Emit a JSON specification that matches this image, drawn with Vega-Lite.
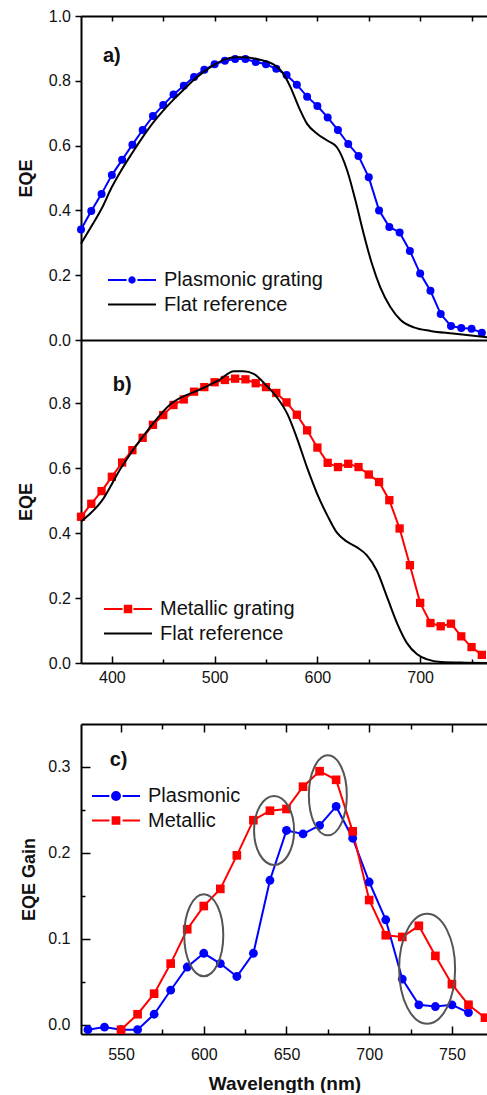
{
  "$schema": "https://vega.github.io/schema/vega-lite/v6.json",
  "padding": {"left": 17, "top": 8, "right": 0, "bottom": 0},
  "config": {
    "font": "Liberation Sans",
    "view": {"stroke": null},
    "axis": {"domainColor": "#000000", "domainWidth": 2, "tickColor": "#000000", "tickWidth": 1.5, "labelColor": "#111111", "labelFontSize": 16, "labelFont": "Liberation Sans", "titleFont": "Liberation Sans", "titleFontWeight": "bold", "titleFontSize": 18, "titleColor": "#111111", "grid": false, "labelFlush": false, "labelOverlap": false},
    "legend": {"labelFont": "Liberation Sans", "labelFontSize": 20, "labelColor": "#111111", "labelLimit": 0, "padding": 0, "symbolSize": 576, "symbolStrokeWidth": 2, "symbolOffset": 11, "labelOffset": 19, "rowPadding": 1.5, "title": null}
  },
  "datasets": {
    "panelA": [
      {"series": "Plasmonic grating", "wavelength": 370, "value": 0.341},
      {"series": "Plasmonic grating", "wavelength": 380, "value": 0.398},
      {"series": "Plasmonic grating", "wavelength": 390, "value": 0.451},
      {"series": "Plasmonic grating", "wavelength": 400, "value": 0.509},
      {"series": "Plasmonic grating", "wavelength": 410, "value": 0.556},
      {"series": "Plasmonic grating", "wavelength": 420, "value": 0.603},
      {"series": "Plasmonic grating", "wavelength": 430, "value": 0.648},
      {"series": "Plasmonic grating", "wavelength": 440, "value": 0.691},
      {"series": "Plasmonic grating", "wavelength": 450, "value": 0.725},
      {"series": "Plasmonic grating", "wavelength": 460, "value": 0.758},
      {"series": "Plasmonic grating", "wavelength": 470, "value": 0.785},
      {"series": "Plasmonic grating", "wavelength": 480, "value": 0.812},
      {"series": "Plasmonic grating", "wavelength": 490, "value": 0.834},
      {"series": "Plasmonic grating", "wavelength": 500, "value": 0.851},
      {"series": "Plasmonic grating", "wavelength": 510, "value": 0.862},
      {"series": "Plasmonic grating", "wavelength": 520, "value": 0.867},
      {"series": "Plasmonic grating", "wavelength": 530, "value": 0.867},
      {"series": "Plasmonic grating", "wavelength": 540, "value": 0.858},
      {"series": "Plasmonic grating", "wavelength": 550, "value": 0.851},
      {"series": "Plasmonic grating", "wavelength": 560, "value": 0.837},
      {"series": "Plasmonic grating", "wavelength": 570, "value": 0.818},
      {"series": "Plasmonic grating", "wavelength": 580, "value": 0.788},
      {"series": "Plasmonic grating", "wavelength": 590, "value": 0.751},
      {"series": "Plasmonic grating", "wavelength": 600, "value": 0.722},
      {"series": "Plasmonic grating", "wavelength": 610, "value": 0.687},
      {"series": "Plasmonic grating", "wavelength": 620, "value": 0.648},
      {"series": "Plasmonic grating", "wavelength": 630, "value": 0.605},
      {"series": "Plasmonic grating", "wavelength": 640, "value": 0.568},
      {"series": "Plasmonic grating", "wavelength": 650, "value": 0.502},
      {"series": "Plasmonic grating", "wavelength": 660, "value": 0.400},
      {"series": "Plasmonic grating", "wavelength": 670, "value": 0.349},
      {"series": "Plasmonic grating", "wavelength": 680, "value": 0.332},
      {"series": "Plasmonic grating", "wavelength": 690, "value": 0.275},
      {"series": "Plasmonic grating", "wavelength": 700, "value": 0.205},
      {"series": "Plasmonic grating", "wavelength": 710, "value": 0.152},
      {"series": "Plasmonic grating", "wavelength": 720, "value": 0.080},
      {"series": "Plasmonic grating", "wavelength": 730, "value": 0.043},
      {"series": "Plasmonic grating", "wavelength": 740, "value": 0.037},
      {"series": "Plasmonic grating", "wavelength": 750, "value": 0.035},
      {"series": "Plasmonic grating", "wavelength": 760, "value": 0.022},
      {"series": "Flat reference", "wavelength": 370, "value": 0.297},
      {"series": "Flat reference", "wavelength": 380, "value": 0.350},
      {"series": "Flat reference", "wavelength": 390, "value": 0.405},
      {"series": "Flat reference", "wavelength": 400, "value": 0.472},
      {"series": "Flat reference", "wavelength": 410, "value": 0.528},
      {"series": "Flat reference", "wavelength": 420, "value": 0.578},
      {"series": "Flat reference", "wavelength": 430, "value": 0.626},
      {"series": "Flat reference", "wavelength": 440, "value": 0.670},
      {"series": "Flat reference", "wavelength": 450, "value": 0.708},
      {"series": "Flat reference", "wavelength": 460, "value": 0.742},
      {"series": "Flat reference", "wavelength": 470, "value": 0.773},
      {"series": "Flat reference", "wavelength": 480, "value": 0.803},
      {"series": "Flat reference", "wavelength": 490, "value": 0.829},
      {"series": "Flat reference", "wavelength": 500, "value": 0.850},
      {"series": "Flat reference", "wavelength": 510, "value": 0.866},
      {"series": "Flat reference", "wavelength": 520, "value": 0.873},
      {"series": "Flat reference", "wavelength": 530, "value": 0.873},
      {"series": "Flat reference", "wavelength": 545, "value": 0.864},
      {"series": "Flat reference", "wavelength": 558, "value": 0.849},
      {"series": "Flat reference", "wavelength": 566, "value": 0.826},
      {"series": "Flat reference", "wavelength": 574, "value": 0.779},
      {"series": "Flat reference", "wavelength": 582, "value": 0.718},
      {"series": "Flat reference", "wavelength": 590, "value": 0.667},
      {"series": "Flat reference", "wavelength": 600, "value": 0.636},
      {"series": "Flat reference", "wavelength": 610, "value": 0.615},
      {"series": "Flat reference", "wavelength": 619, "value": 0.595},
      {"series": "Flat reference", "wavelength": 629, "value": 0.523},
      {"series": "Flat reference", "wavelength": 637, "value": 0.431},
      {"series": "Flat reference", "wavelength": 645, "value": 0.328},
      {"series": "Flat reference", "wavelength": 653, "value": 0.236},
      {"series": "Flat reference", "wavelength": 661, "value": 0.164},
      {"series": "Flat reference", "wavelength": 671, "value": 0.102},
      {"series": "Flat reference", "wavelength": 681, "value": 0.062},
      {"series": "Flat reference", "wavelength": 694, "value": 0.039},
      {"series": "Flat reference", "wavelength": 710, "value": 0.028},
      {"series": "Flat reference", "wavelength": 732, "value": 0.020},
      {"series": "Flat reference", "wavelength": 766, "value": 0.008}
    ],
    "panelB": [
      {"series": "Metallic grating", "wavelength": 370, "value": 0.450},
      {"series": "Metallic grating", "wavelength": 380, "value": 0.490},
      {"series": "Metallic grating", "wavelength": 390, "value": 0.529},
      {"series": "Metallic grating", "wavelength": 400, "value": 0.573},
      {"series": "Metallic grating", "wavelength": 410, "value": 0.617},
      {"series": "Metallic grating", "wavelength": 420, "value": 0.655},
      {"series": "Metallic grating", "wavelength": 430, "value": 0.693},
      {"series": "Metallic grating", "wavelength": 440, "value": 0.733},
      {"series": "Metallic grating", "wavelength": 450, "value": 0.763},
      {"series": "Metallic grating", "wavelength": 460, "value": 0.794},
      {"series": "Metallic grating", "wavelength": 470, "value": 0.811},
      {"series": "Metallic grating", "wavelength": 480, "value": 0.835},
      {"series": "Metallic grating", "wavelength": 490, "value": 0.849},
      {"series": "Metallic grating", "wavelength": 500, "value": 0.864},
      {"series": "Metallic grating", "wavelength": 510, "value": 0.871},
      {"series": "Metallic grating", "wavelength": 520, "value": 0.875},
      {"series": "Metallic grating", "wavelength": 530, "value": 0.873},
      {"series": "Metallic grating", "wavelength": 540, "value": 0.861},
      {"series": "Metallic grating", "wavelength": 550, "value": 0.849},
      {"series": "Metallic grating", "wavelength": 560, "value": 0.831},
      {"series": "Metallic grating", "wavelength": 570, "value": 0.802},
      {"series": "Metallic grating", "wavelength": 580, "value": 0.764},
      {"series": "Metallic grating", "wavelength": 590, "value": 0.716},
      {"series": "Metallic grating", "wavelength": 600, "value": 0.663},
      {"series": "Metallic grating", "wavelength": 610, "value": 0.616},
      {"series": "Metallic grating", "wavelength": 620, "value": 0.603},
      {"series": "Metallic grating", "wavelength": 630, "value": 0.613},
      {"series": "Metallic grating", "wavelength": 640, "value": 0.603},
      {"series": "Metallic grating", "wavelength": 650, "value": 0.580},
      {"series": "Metallic grating", "wavelength": 660, "value": 0.557},
      {"series": "Metallic grating", "wavelength": 670, "value": 0.501},
      {"series": "Metallic grating", "wavelength": 680, "value": 0.414},
      {"series": "Metallic grating", "wavelength": 690, "value": 0.301},
      {"series": "Metallic grating", "wavelength": 700, "value": 0.185},
      {"series": "Metallic grating", "wavelength": 710, "value": 0.123},
      {"series": "Metallic grating", "wavelength": 720, "value": 0.113},
      {"series": "Metallic grating", "wavelength": 730, "value": 0.121},
      {"series": "Metallic grating", "wavelength": 740, "value": 0.082},
      {"series": "Metallic grating", "wavelength": 750, "value": 0.049},
      {"series": "Metallic grating", "wavelength": 760, "value": 0.025},
      {"series": "Flat reference", "wavelength": 370, "value": 0.435},
      {"series": "Flat reference", "wavelength": 390, "value": 0.498},
      {"series": "Flat reference", "wavelength": 409, "value": 0.601},
      {"series": "Flat reference", "wavelength": 438, "value": 0.729},
      {"series": "Flat reference", "wavelength": 457, "value": 0.796},
      {"series": "Flat reference", "wavelength": 486, "value": 0.842},
      {"series": "Flat reference", "wavelength": 503, "value": 0.868},
      {"series": "Flat reference", "wavelength": 519, "value": 0.898},
      {"series": "Flat reference", "wavelength": 528, "value": 0.898},
      {"series": "Flat reference", "wavelength": 538, "value": 0.890},
      {"series": "Flat reference", "wavelength": 551, "value": 0.852},
      {"series": "Flat reference", "wavelength": 561, "value": 0.816},
      {"series": "Flat reference", "wavelength": 571, "value": 0.765},
      {"series": "Flat reference", "wavelength": 580, "value": 0.693},
      {"series": "Flat reference", "wavelength": 590, "value": 0.601},
      {"series": "Flat reference", "wavelength": 600, "value": 0.519},
      {"series": "Flat reference", "wavelength": 610, "value": 0.452},
      {"series": "Flat reference", "wavelength": 619, "value": 0.401},
      {"series": "Flat reference", "wavelength": 629, "value": 0.373},
      {"series": "Flat reference", "wavelength": 639, "value": 0.355},
      {"series": "Flat reference", "wavelength": 648, "value": 0.332},
      {"series": "Flat reference", "wavelength": 658, "value": 0.283},
      {"series": "Flat reference", "wavelength": 668, "value": 0.201},
      {"series": "Flat reference", "wavelength": 678, "value": 0.119},
      {"series": "Flat reference", "wavelength": 687, "value": 0.062},
      {"series": "Flat reference", "wavelength": 697, "value": 0.027},
      {"series": "Flat reference", "wavelength": 707, "value": 0.011},
      {"series": "Flat reference", "wavelength": 720, "value": 0.003},
      {"series": "Flat reference", "wavelength": 745, "value": 0.001},
      {"series": "Flat reference", "wavelength": 766, "value": 0.0}
    ],
    "panelC": [
      {"series": "Plasmonic", "wavelength": 530, "value": -0.006},
      {"series": "Plasmonic", "wavelength": 540, "value": -0.003},
      {"series": "Plasmonic", "wavelength": 550, "value": -0.006},
      {"series": "Plasmonic", "wavelength": 560, "value": -0.006},
      {"series": "Plasmonic", "wavelength": 570, "value": 0.012},
      {"series": "Plasmonic", "wavelength": 580, "value": 0.040},
      {"series": "Plasmonic", "wavelength": 590, "value": 0.067},
      {"series": "Plasmonic", "wavelength": 600, "value": 0.083},
      {"series": "Plasmonic", "wavelength": 610, "value": 0.071},
      {"series": "Plasmonic", "wavelength": 620, "value": 0.056},
      {"series": "Plasmonic", "wavelength": 630, "value": 0.083},
      {"series": "Plasmonic", "wavelength": 640, "value": 0.168},
      {"series": "Plasmonic", "wavelength": 650, "value": 0.226},
      {"series": "Plasmonic", "wavelength": 660, "value": 0.222},
      {"series": "Plasmonic", "wavelength": 670, "value": 0.232},
      {"series": "Plasmonic", "wavelength": 680, "value": 0.254},
      {"series": "Plasmonic", "wavelength": 690, "value": 0.217},
      {"series": "Plasmonic", "wavelength": 700, "value": 0.166},
      {"series": "Plasmonic", "wavelength": 710, "value": 0.122},
      {"series": "Plasmonic", "wavelength": 720, "value": 0.053},
      {"series": "Plasmonic", "wavelength": 730, "value": 0.023},
      {"series": "Plasmonic", "wavelength": 740, "value": 0.021},
      {"series": "Plasmonic", "wavelength": 750, "value": 0.023},
      {"series": "Plasmonic", "wavelength": 760, "value": 0.014},
      {"series": "Metallic", "wavelength": 550, "value": -0.006},
      {"series": "Metallic", "wavelength": 560, "value": 0.012},
      {"series": "Metallic", "wavelength": 570, "value": 0.036},
      {"series": "Metallic", "wavelength": 580, "value": 0.071},
      {"series": "Metallic", "wavelength": 590, "value": 0.111},
      {"series": "Metallic", "wavelength": 600, "value": 0.138},
      {"series": "Metallic", "wavelength": 610, "value": 0.158},
      {"series": "Metallic", "wavelength": 620, "value": 0.197},
      {"series": "Metallic", "wavelength": 630, "value": 0.238},
      {"series": "Metallic", "wavelength": 640, "value": 0.249},
      {"series": "Metallic", "wavelength": 650, "value": 0.251},
      {"series": "Metallic", "wavelength": 660, "value": 0.277},
      {"series": "Metallic", "wavelength": 670, "value": 0.295},
      {"series": "Metallic", "wavelength": 680, "value": 0.285},
      {"series": "Metallic", "wavelength": 690, "value": 0.225},
      {"series": "Metallic", "wavelength": 700, "value": 0.145},
      {"series": "Metallic", "wavelength": 710, "value": 0.104},
      {"series": "Metallic", "wavelength": 720, "value": 0.102},
      {"series": "Metallic", "wavelength": 730, "value": 0.115},
      {"series": "Metallic", "wavelength": 740, "value": 0.080},
      {"series": "Metallic", "wavelength": 750, "value": 0.047},
      {"series": "Metallic", "wavelength": 760, "value": 0.023},
      {"series": "Metallic", "wavelength": 770, "value": 0.008}
    ],
    "ellipses": [
      {"ellipse": 1, "wavelength": 600, "value": 0.104},
      {"ellipse": 2, "wavelength": 642.5, "value": 0.226},
      {"ellipse": 3, "wavelength": 675, "value": 0.267},
      {"ellipse": 4, "wavelength": 735, "value": 0.065}
    ],
    "labels": [
      {"panel": "a", "label": "a)", "wavelength": 400, "value": 0.877},
      {"panel": "b", "label": "b)", "wavelength": 410, "value": 0.857},
      {"panel": "c", "label": "c)", "wavelength": 548.5, "value": 0.308}
    ]
  },
  "bounds": "full",
  "spacing": 35,
  "resolve": {"scale": {"color": "independent"}},
  "vconcat": [
    {
      "bounds": "flush",
      "spacing": 0,
      "resolve": {"scale": {"color": "independent"}},
      "vconcat": [
        {
          "width": 407,
          "height": 324,
          "data": {"name": "panelA"},
          "resolve": {"axis": {"x": "independent"}},
          "layer": [
            {
              "transform": [{"filter": "datum.series === 'Plasmonic grating'"}],
              "mark": {"type": "line", "strokeWidth": 2},
              "encoding": {
                "x": {"field": "wavelength", "type": "quantitative", "scale": {"domain": [370, 766], "nice": false, "zero": false}, "axis": {"orient": "bottom", "ticks": false, "labels": false, "title": null}},
                "y": {"field": "value", "type": "quantitative", "scale": {"domain": [0, 1], "nice": false, "zero": false}, "axis": {"title": "EQE", "values": [0, 0.1, 0.2, 0.3, 0.4, 0.5, 0.6, 0.7, 0.8, 0.9, 1.0], "labelExpr": "round(datum.value*10)%2==0 ? format(datum.value, '.1f') : ''", "tickSize": {"condition": {"test": "round(datum.value*10)%2==1", "value": 3}, "value": 6}, "labelPadding": 4.5, "titlePadding": 13}},
                "color": {"field": "series", "type": "nominal", "scale": {"domain": ["Plasmonic grating", "Flat reference"], "range": ["#0000ff", "#000000"]}, "legend": {"orient": "none", "legendX": 27, "legendY": 251, "encode": {"symbols": {"update": {"shape": {"signal": "datum.value === 'Flat reference' ? 'M-2,0L2,0' : 'M-2,0L-0.45,0M0.45,0L2,0M0.225,0C0.225,0.124 0.124,0.225 0,0.225C-0.124,0.225 -0.225,0.124 -0.225,0C-0.225,-0.124 -0.124,-0.225 0,-0.225C0.124,-0.225 0.225,-0.124 0.225,0Z'"}, "fill": {"signal": "datum.value === 'Flat reference' ? 'transparent' : '#0000ff'"}, "stroke": {"signal": "datum.value === 'Flat reference' ? '#000000' : '#0000ff'"}, "strokeWidth": {"value": 2}, "opacity": {"value": 1}}}}}}
              }
            },
            {
              "transform": [{"filter": "datum.series === 'Plasmonic grating'"}],
              "mark": {"type": "point", "filled": true, "size": 64, "opacity": 1, "strokeWidth": 0},
              "encoding": {
                "x": {"field": "wavelength", "type": "quantitative", "scale": {"domain": [370, 766], "nice": false, "zero": false}, "axis": {"orient": "top", "values": [400, 450, 500, 550, 600, 650, 700, 750], "tickSize": -5, "labels": false, "title": null}},
                "y": {"field": "value", "type": "quantitative"},
                "color": {"field": "series", "type": "nominal"}
              }
            },
            {
              "transform": [{"filter": "datum.series === 'Flat reference'"}],
              "mark": {"type": "line", "strokeWidth": 2, "interpolate": "monotone"},
              "encoding": {
                "x": {"field": "wavelength", "type": "quantitative", "axis": null},
                "y": {"field": "value", "type": "quantitative"},
                "color": {"field": "series", "type": "nominal"}
              }
            },
            {
              "data": {"name": "labels"},
              "transform": [{"filter": "datum.panel === 'a'"}],
              "mark": {"type": "text", "fontWeight": "bold", "fontSize": 20, "align": "center", "baseline": "middle", "color": "#111111"},
              "encoding": {
                "x": {"field": "wavelength", "type": "quantitative", "axis": null},
                "y": {"field": "value", "type": "quantitative"},
                "text": {"field": "label"}
              }
            }
          ]
        },
        {
          "width": 407,
          "height": 323,
          "data": {"name": "panelB"},
          "layer": [
            {
              "transform": [{"filter": "datum.series === 'Metallic grating'"}],
              "mark": {"type": "line", "strokeWidth": 2},
              "encoding": {
                "x": {"field": "wavelength", "type": "quantitative", "scale": {"domain": [370, 766], "nice": false, "zero": false}, "axis": {"title": null, "values": [400, 450, 500, 550, 600, 650, 700, 750], "labelExpr": "datum.value % 100 == 0 ? datum.value : ''", "tickSize": {"condition": {"test": "datum.value % 100 != 0", "value": -4}, "value": -7}, "labelPadding": 13}},
                "y": {"field": "value", "type": "quantitative", "scale": {"domain": [0, 0.994], "nice": false, "zero": false}, "axis": {"title": "EQE", "values": [0, 0.1, 0.2, 0.3, 0.4, 0.5, 0.6, 0.7, 0.8, 0.9], "labelExpr": "round(datum.value*10)%2==0 ? format(datum.value, '.1f') : ''", "tickSize": {"condition": {"test": "round(datum.value*10)%2==1", "value": 3}, "value": 6}, "labelPadding": 4.5, "titlePadding": 13}},
                "color": {"field": "series", "type": "nominal", "scale": {"domain": ["Metallic grating", "Flat reference"], "range": ["#ff0000", "#000000"]}, "legend": {"orient": "none", "legendX": 23, "legendY": 256, "encode": {"symbols": {"update": {"shape": {"signal": "datum.value === 'Flat reference' ? 'M-2,0L2,0' : 'M-2,0L-0.45,0M0.45,0L2,0M-0.27,-0.27L0.27,-0.27L0.27,0.27L-0.27,0.27Z'"}, "fill": {"signal": "datum.value === 'Flat reference' ? 'transparent' : '#ff0000'"}, "stroke": {"signal": "datum.value === 'Flat reference' ? '#000000' : '#ff0000'"}, "strokeWidth": {"value": 2}, "opacity": {"value": 1}}}}}}
              }
            },
            {
              "transform": [{"filter": "datum.series === 'Metallic grating'"}],
              "mark": {"type": "point", "shape": "square", "filled": true, "size": 69, "opacity": 1, "strokeWidth": 0},
              "encoding": {
                "x": {"field": "wavelength", "type": "quantitative"},
                "y": {"field": "value", "type": "quantitative"},
                "color": {"field": "series", "type": "nominal"}
              }
            },
            {
              "transform": [{"filter": "datum.series === 'Flat reference'"}],
              "mark": {"type": "line", "strokeWidth": 2, "interpolate": "monotone"},
              "encoding": {
                "x": {"field": "wavelength", "type": "quantitative"},
                "y": {"field": "value", "type": "quantitative"},
                "color": {"field": "series", "type": "nominal"}
              }
            },
            {
              "data": {"name": "labels"},
              "transform": [{"filter": "datum.panel === 'b'"}],
              "mark": {"type": "text", "fontWeight": "bold", "fontSize": 20, "align": "center", "baseline": "middle", "color": "#111111"},
              "encoding": {
                "x": {"field": "wavelength", "type": "quantitative"},
                "y": {"field": "value", "type": "quantitative"},
                "text": {"field": "label"}
              }
            }
          ]
        }
      ]
    },
    {
      "width": 407,
      "height": 310,
      "data": {"name": "panelC"},
      "resolve": {"axis": {"x": "independent"}},
      "layer": [
        {
          "transform": [{"filter": "datum.series === 'Plasmonic'"}],
          "mark": {"type": "line", "strokeWidth": 2},
          "encoding": {
            "x": {"field": "wavelength", "type": "quantitative", "scale": {"domain": [525.8, 771.8], "nice": false, "zero": false}, "axis": {"title": "Wavelength (nm)", "titleFontSize": 19, "titlePadding": 9, "values": [550, 575, 600, 625, 650, 675, 700, 725, 750], "labelExpr": "datum.value % 50 == 0 ? datum.value : ''", "tickSize": {"condition": {"test": "datum.value % 50 != 0", "value": -5}, "value": -8}, "labelPadding": 20}},
            "y": {"field": "value", "type": "quantitative", "scale": {"domain": [-0.011, 0.35], "nice": false, "zero": false}, "axis": {"title": "EQE Gain", "values": [0, 0.05, 0.1, 0.15, 0.2, 0.25, 0.3], "labelExpr": "round(datum.value*20)%2==0 ? format(datum.value, '.1f') : ''", "tickSize": {"condition": {"test": "round(datum.value*20)%2==1", "value": -4}, "value": -9}, "labelPadding": 20, "titlePadding": 9}},
            "color": {"field": "series", "type": "nominal", "scale": {"domain": ["Plasmonic", "Metallic"], "range": ["#0000ff", "#ff0000"]}, "legend": {"orient": "none", "legendX": 11, "legendY": 59, "encode": {"symbols": {"update": {"shape": {"signal": "datum.value === 'Plasmonic' ? 'M-2,0L-0.55,0M0.55,0L2,0M0.33,0C0.33,0.182 0.182,0.33 0,0.33C-0.182,0.33 -0.33,0.182 -0.33,0C-0.33,-0.182 -0.182,-0.33 0,-0.33C0.182,-0.33 0.33,-0.182 0.33,0Z' : 'M-2,0L-0.55,0M0.55,0L2,0M-0.28,-0.28L0.28,-0.28L0.28,0.28L-0.28,0.28Z'"}, "fill": {"signal": "datum.value === 'Plasmonic' ? '#0000ff' : '#ff0000'"}, "stroke": {"signal": "datum.value === 'Plasmonic' ? '#0000ff' : '#ff0000'"}, "strokeWidth": {"value": 2}, "opacity": {"value": 1}}}}}}
          }
        },
        {
          "transform": [{"filter": "datum.series === 'Metallic'"}],
          "mark": {"type": "line", "strokeWidth": 2},
          "encoding": {
            "x": {"field": "wavelength", "type": "quantitative", "axis": null},
            "y": {"field": "value", "type": "quantitative"},
            "color": {"field": "series", "type": "nominal"}
          }
        },
        {
          "transform": [{"filter": "datum.series === 'Plasmonic'"}],
          "mark": {"type": "point", "filled": true, "size": 78, "opacity": 1, "strokeWidth": 0},
          "encoding": {
            "x": {"field": "wavelength", "type": "quantitative", "axis": {"orient": "top", "values": [550, 575, 600, 625, 650, 675, 700, 725, 750], "tickSize": {"condition": {"test": "datum.value % 50 != 0", "value": -5}, "value": -8}, "labels": false, "title": null}},
            "y": {"field": "value", "type": "quantitative"},
            "color": {"field": "series", "type": "nominal"}
          }
        },
        {
          "transform": [{"filter": "datum.series === 'Metallic'"}],
          "mark": {"type": "point", "shape": "square", "filled": true, "size": 75, "opacity": 1, "strokeWidth": 0, "clip": true},
          "encoding": {
            "x": {"field": "wavelength", "type": "quantitative", "axis": null},
            "y": {"field": "value", "type": "quantitative"},
            "color": {"field": "series", "type": "nominal"}
          }
        },
        {
          "data": {"name": "ellipses"},
          "transform": [{"filter": "datum.ellipse === 1"}],
          "mark": {"type": "point", "shape": "M0,-1C0.263,-1 0.476,-0.552 0.476,0C0.476,0.552 0.263,1 0,1C-0.263,1 -0.476,0.552 -0.476,0C-0.476,-0.552 -0.263,-1 0,-1Z", "size": 6724, "filled": false, "stroke": "#555555", "strokeWidth": 2, "opacity": 1},
          "encoding": {"x": {"field": "wavelength", "type": "quantitative", "axis": null}, "y": {"field": "value", "type": "quantitative"}}
        },
        {
          "data": {"name": "ellipses"},
          "transform": [{"filter": "datum.ellipse === 2"}],
          "mark": {"type": "point", "shape": "M0,-1C0.32,-1 0.58,-0.552 0.58,0C0.58,0.552 0.32,1 0,1C-0.32,1 -0.58,0.552 -0.58,0C-0.58,-0.552 -0.32,-1 0,-1Z", "size": 4761, "filled": false, "stroke": "#555555", "strokeWidth": 2, "opacity": 1},
          "encoding": {"x": {"field": "wavelength", "type": "quantitative", "axis": null}, "y": {"field": "value", "type": "quantitative"}}
        },
        {
          "data": {"name": "ellipses"},
          "transform": [{"filter": "datum.ellipse === 3"}],
          "mark": {"type": "point", "shape": "M0,-1C0.262,-1 0.475,-0.552 0.475,0C0.475,0.552 0.262,1 0,1C-0.262,1 -0.475,0.552 -0.475,0C-0.475,-0.552 -0.262,-1 0,-1Z", "size": 6400, "filled": false, "stroke": "#555555", "strokeWidth": 2, "opacity": 1},
          "encoding": {"x": {"field": "wavelength", "type": "quantitative", "axis": null}, "y": {"field": "value", "type": "quantitative"}}
        },
        {
          "data": {"name": "ellipses"},
          "transform": [{"filter": "datum.ellipse === 4"}],
          "mark": {"type": "point", "shape": "M0,-1C0.281,-1 0.509,-0.552 0.509,0C0.509,0.552 0.281,1 0,1C-0.281,1 -0.509,0.552 -0.509,0C-0.509,-0.552 -0.281,-1 0,-1Z", "size": 12100, "filled": false, "stroke": "#555555", "strokeWidth": 2, "opacity": 1},
          "encoding": {"x": {"field": "wavelength", "type": "quantitative", "axis": null}, "y": {"field": "value", "type": "quantitative"}}
        },
        {
          "data": {"name": "labels"},
          "transform": [{"filter": "datum.panel === 'c'"}],
          "mark": {"type": "text", "fontWeight": "bold", "fontSize": 20, "align": "center", "baseline": "middle", "color": "#111111"},
          "encoding": {
            "x": {"field": "wavelength", "type": "quantitative", "axis": null},
            "y": {"field": "value", "type": "quantitative"},
            "text": {"field": "label"}
          }
        }
      ]
    }
  ]
}
